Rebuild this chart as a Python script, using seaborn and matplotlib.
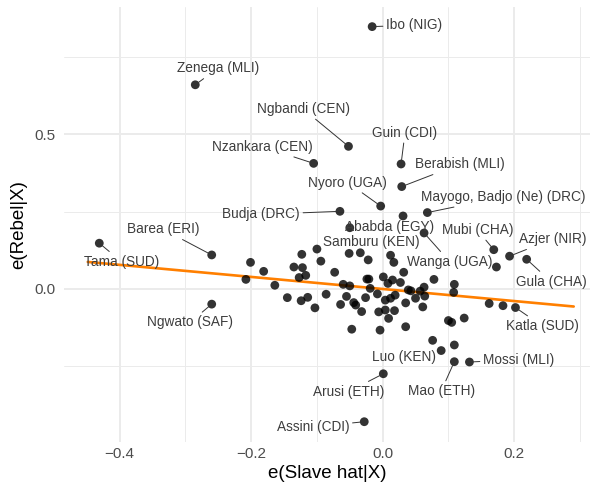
import numpy as np
import pandas as pd
import seaborn as sns
import matplotlib
matplotlib.use("Agg")
import matplotlib.pyplot as plt
from matplotlib.ticker import MultipleLocator

# labelled groups: residual of slave exports (x) and of rebellion (y)
groups = ["Ibo (NIG)", "Zenega (MLI)", "Ngbandi (CEN)", "Nzankara (CEN)", "Guin (CDI)",
          "Berabish (MLI)", "Nyoro (UGA)", "Budja (DRC)", "Mayogo, Badjo (Ne) (DRC)",
          "Ababda (EGY)", "Wanga (UGA)", "Samburu (KEN)", "Mubi (CHA)", "Azjer (NIR)",
          "Gula (CHA)", "Barea (ERI)", "Tama (SUD)", "Ngwato (SAF)", "Katla (SUD)",
          "Mossi (MLI)", "Mao (ETH)", "Luo (KEN)", "Arusi (ETH)", "Assini (CDI)"]
groups_x = [-0.016, -0.285, -0.052, -0.105, 0.028, 0.029, -0.003, -0.065, 0.068,
            -0.050, 0.063, -0.051, 0.169, 0.193, 0.219, -0.260, -0.431, -0.260, 0.202,
            0.132, 0.109, 0.089, 0.001, -0.028]
groups_y = [0.848, 0.660, 0.461, 0.406, 0.404, 0.331, 0.268, 0.251, 0.247,
            0.198, 0.181, 0.115, 0.127, 0.106, 0.096, 0.110, 0.148, -0.049, -0.060,
            -0.236, -0.235, -0.199, -0.274, -0.429]

# the unlabelled groups
other_x = [0.031, -0.201, -0.181, -0.208, -0.164, -0.123, -0.100, -0.094, -0.135, -0.122,
           -0.117, -0.127, -0.073, -0.145, -0.124, -0.114, -0.086, -0.103, -0.064, -0.055,
           -0.047, -0.034, -0.022, 0.012, 0.017, 0.032, 0.078, 0.109, 0.108, -0.060,
           -0.050, -0.021, -0.024, 0.001, 0.008, 0.015, 0.027, 0.039, 0.043, 0.057,
           0.063, 0.064, -0.019, -0.008, -0.026, 0.004, 0.012, 0.019, 0.035, 0.050,
           0.061, -0.044, -0.041, -0.032, -0.006, 0.004, 0.009, 0.018, 0.035, -0.004,
           0.100, 0.105, 0.124, 0.076, 0.109, 0.162, 0.183, 0.173]
other_y = [0.236, 0.086, 0.057, 0.031, 0.012, 0.112, 0.129, 0.090, 0.071, 0.069,
           0.044, 0.037, 0.054, -0.028, -0.038, -0.027, -0.017, -0.061, -0.050, -0.024,
           -0.130, 0.117, 0.094, 0.109, 0.086, 0.054, 0.031, 0.015, -0.011, 0.015,
           0.010, 0.032, 0.032, 0.039, 0.018, 0.029, 0.021, -0.003, -0.006, -0.007,
           0.006, -0.023, 0.002, -0.016, -0.028, -0.036, -0.030, -0.020, -0.045, -0.030,
           -0.058, -0.044, -0.052, -0.073, -0.074, -0.068, -0.095, -0.070, -0.122, -0.133,
           -0.102, -0.108, -0.094, -0.166, -0.181, -0.047, -0.054, 0.071]

# OLS fit on the full sample
fit_slope = -0.195
fit_intercept = 0.0
fit_range = [-0.4485, 0.2906]

# where the repelled labels ended up (text centres)
label_pos = {
    "Ibo (NIG)": (0.048, 0.853), "Zenega (MLI)": (-0.251, 0.713),
    "Ngbandi (CEN)": (-0.121, 0.582), "Nzankara (CEN)": (-0.183, 0.460),
    "Guin (CDI)": (0.034, 0.505), "Berabish (MLI)": (0.117, 0.403),
    "Nyoro (UGA)": (-0.053, 0.344), "Budja (DRC)": (-0.185, 0.241),
    "Mayogo, Badjo (Ne) (DRC)": (0.184, 0.298), "Ababda (EGY)": (0.011, 0.201),
    "Wanga (UGA)": (0.102, 0.088), "Samburu (KEN)": (-0.017, 0.153),
    "Mubi (CHA)": (0.144, 0.191), "Azjer (NIR)": (0.258, 0.161),
    "Gula (CHA)": (0.256, 0.024), "Barea (ERI)": (-0.334, 0.193),
    "Tama (SUD)": (-0.397, 0.088), "Ngwato (SAF)": (-0.293, -0.108),
    "Katla (SUD)": (0.243, -0.120), "Mossi (MLI)": (0.207, -0.229),
    "Mao (ETH)": (0.089, -0.330), "Luo (KEN)": (0.032, -0.219),
    "Arusi (ETH)": (-0.052, -0.332), "Assini (CDI)": (-0.106, -0.446),
}
no_segment = ["Ababda (EGY)", "Samburu (KEN)", "Luo (KEN)"]

df = pd.DataFrame({"x": groups_x + other_x, "y": groups_y + other_y})
fit = pd.DataFrame({"x": fit_range})
fit["y"] = fit_intercept + fit_slope * fit["x"]

sns.set_theme(style="white")
plt.rcParams["font.family"] = ["Liberation Sans", "DejaVu Sans"]

fig = plt.figure(figsize=(5.93, 4.91), dpi=100)
ax = fig.add_axes([0.108, 0.1008, 0.887, 0.8853])

sns.lineplot(data=fit, x="x", y="y", color="#FF7F00", lw=1.9, ax=ax, zorder=2)
sns.scatterplot(data=df, x="x", y="y", color="black", alpha=0.8, s=40,
                edgecolor="none", ax=ax, zorder=3)

for name, px, py in zip(groups, groups_x, groups_y):
    lx, ly = label_pos[name]
    props = None if name in no_segment else dict(arrowstyle="-", color="#333333",
                                                  lw=0.7, shrinkA=0, shrinkB=3)
    ax.annotate(name, xy=(px, py), xytext=(lx, ly), ha="center", va="center",
                fontsize=9.8, color="#3d3d3d", arrowprops=props, zorder=4)

ax.set_xlim(-0.4846, 0.3154)
ax.set_ylim(-0.493, 0.912)
ax.xaxis.set_major_locator(MultipleLocator(0.2))
ax.xaxis.set_minor_locator(MultipleLocator(0.1))
ax.yaxis.set_major_locator(MultipleLocator(0.5))
ax.yaxis.set_minor_locator(MultipleLocator(0.25))
ax.grid(which="major", color="#EBEBEB", lw=1.4)
ax.grid(which="minor", color="#EBEBEB", lw=0.7)
ax.set_axisbelow(True)
for s in ax.spines.values():
    s.set_visible(False)
ax.tick_params(which="both", length=0, labelsize=11, labelcolor="#4D4D4D")
ax.tick_params(axis="y", pad=6)
ax.tick_params(axis="x", pad=4)
ax.set_xlabel("e(Slave hat|X)", fontsize=13.5, color="black", labelpad=3)
ax.set_ylabel("e(Rebel|X)", fontsize=13.5, color="black", labelpad=5)

fig.savefig("out.png", dpi=100)
